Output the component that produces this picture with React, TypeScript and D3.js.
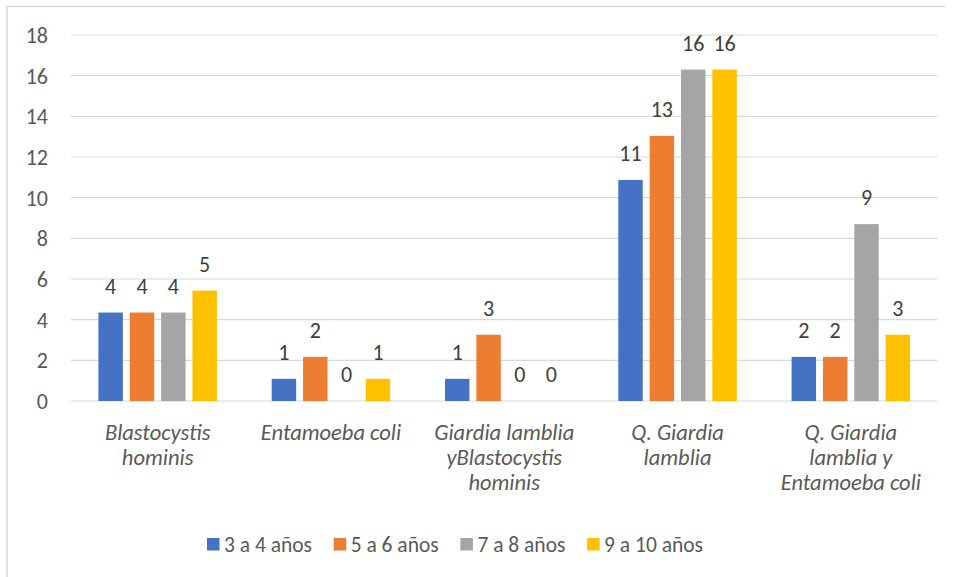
import React from "react";
import * as d3 from "d3";

// Share of children (%) by parasite finding and age group
const categories: string[][] = [
  ["Blastocystis", "hominis"],
  ["Entamoeba coli"],
  ["Giardia lamblia", "yBlastocystis", "hominis"],
  ["Q. Giardia", "lamblia"],
  ["Q. Giardia", "lamblia y", "Entamoeba coli"],
];
const seriesNames = ["3 a 4 años", "5 a 6 años", "7 a 8 años", "9 a 10 años"];
const age3to4 = [4.35, 1.09, 1.09, 10.87, 2.17];
const age5to6 = [4.35, 2.17, 3.26, 13.04, 2.17];
const age7to8 = [4.35, 0, 0, 16.3, 8.7];
const age9to10 = [5.43, 1.09, 0, 16.3, 3.26];
const yTicks = [0, 2, 4, 6, 8, 10, 12, 14, 16, 18];

const seriesValues = [age3to4, age5to6, age7to8, age9to10];
const colors = ["#4472C4", "#ED7D31", "#A5A5A5", "#FFC000"];

const W = 954;
const H = 577;
const FONT = "Carlito, Calibri, Lato, 'Liberation Sans', sans-serif";
const plotLeft = 71;
const plotRight = 937.5;
const plotTop = 35;
const plotBottom = 401;

export default function App() {
  const catKeys = categories.map((_, i) => String(i));
  const x = d3.scaleBand<string>().domain(catKeys).range([plotLeft, plotRight]);
  const y = d3.scaleLinear().domain([0, 18]).range([plotBottom, plotTop]);
  const groupWidth = 118.5;
  const fmt = d3.format(".0f");

  const legendStart = 207;
  const legendPitch = 126.7;

  return (
    <svg
      width={W}
      height={H}
      style={{ position: "absolute", left: 0, top: 0, background: "#fff" }}
      fontFamily={FONT}
    >
      {/* chart frame */}
      <line x1={7} x2={945} y1={6.5} y2={6.5} stroke="#D9D9D9" strokeWidth={1.5} />
      <line x1={7} x2={7} y1={6} y2={H} stroke="#D9D9D9" strokeWidth={1.5} />

      {/* gridlines and y tick labels */}
      {yTicks.map((t) => (
        <g key={t}>
          <line
            x1={plotLeft}
            x2={plotRight}
            y1={y(t)}
            y2={y(t)}
            stroke="#D9D9D9"
            strokeWidth={1.2}
          />
          <text
            x={48}
            y={y(t)}
            dy="0.36em"
            textAnchor="end"
            fontSize={22}
            fill="#595959"
          >
            {t}
          </text>
        </g>
      ))}

      {/* bars and value labels */}
      {catKeys.map((k, ci) => {
        const c0 = (x(k) ?? 0) + x.bandwidth() / 2 - groupWidth / 2;
        const sub = d3
          .scaleBand<number>()
          .domain(d3.range(seriesNames.length))
          .range([c0, c0 + groupWidth])
          .paddingInner(0.22);
        return (
          <g key={k}>
            {seriesValues.map((vals, si) => {
              const v = vals[ci];
              const bx = sub(si) ?? 0;
              return (
                <g key={si}>
                  <rect
                    x={bx}
                    y={y(v)}
                    width={sub.bandwidth()}
                    height={y(0) - y(v)}
                    fill={colors[si]}
                  />
                  <text
                    x={bx + sub.bandwidth() / 2}
                    y={y(v) - 19}
                    textAnchor="middle"
                    fontSize={22}
                    fill="#404040"
                  >
                    {fmt(v)}
                  </text>
                </g>
              );
            })}
            {categories[ci].map((line, li) => (
              <text
                key={li}
                x={(x(k) ?? 0) + x.bandwidth() / 2}
                y={440 + li * 25}
                textAnchor="middle"
                fontSize={22.5}
                fontStyle="italic"
                fill="#595959"
              >
                {line}
              </text>
            ))}
          </g>
        );
      })}

      {/* legend */}
      {seriesNames.map((name, i) => {
        const lx = legendStart + i * legendPitch;
        return (
          <g key={name}>
            <rect x={lx} y={538} width={12.5} height={12.5} fill={colors[i]} />
            <text x={lx + 17} y={551.5} fontSize={21.5} fill="#595959">
              {name}
            </text>
          </g>
        );
      })}
    </svg>
  );
}
